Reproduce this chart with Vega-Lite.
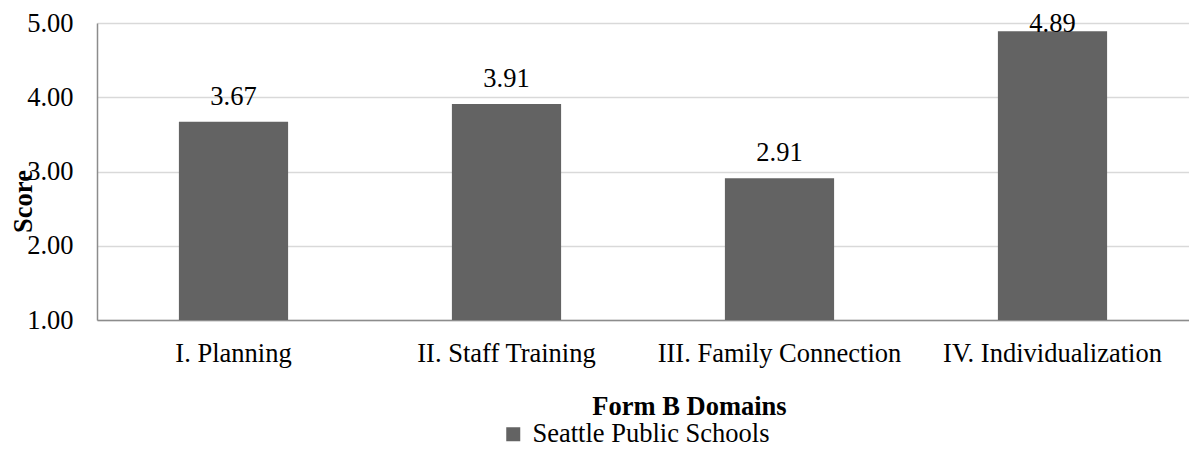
{
  "$schema": "https://vega.github.io/schema/vega-lite/v6.json",
  "autosize": "none",
  "width": 1092,
  "height": 297,
  "padding": {"left": 97, "top": 23, "right": 0, "bottom": 129},
  "background": "white",
  "config": {
    "view": {"stroke": null},
    "font": "Liberation Serif",
    "axis": {"labelFont": "Liberation Serif", "titleFont": "Liberation Serif"}
  },
  "data": {
    "values": [
      {"domain": "I. Planning", "score": 3.67, "series": "Seattle Public Schools"},
      {"domain": "II. Staff Training", "score": 3.91, "series": "Seattle Public Schools"},
      {"domain": "III. Family Connection", "score": 2.91, "series": "Seattle Public Schools"},
      {"domain": "IV. Individualization", "score": 4.89, "series": "Seattle Public Schools"}
    ]
  },
  "encoding": {
    "x": {
      "field": "domain",
      "type": "nominal",
      "sort": null,
      "scale": {"paddingInner": 0.6, "paddingOuter": 0.3},
      "axis": {
        "title": "Form B Domains",
        "titleFontSize": 26.5,
        "titleFontWeight": "bold",
        "titleColor": "black",
        "titleBaseline": "alphabetic",
        "titleX": 592,
        "titleY": 94,
        "titleAnchor": null,
        "labelAngle": 0,
        "labelFontSize": 26.5,
        "labelColor": "black",
        "labelPadding": 20,
        "labelLimit": 0,
        "ticks": false,
        "tickSize": 0,
        "domainColor": "#8c8c8c",
        "domainWidth": 1.5
      }
    },
    "y": {
      "field": "score",
      "type": "quantitative",
      "scale": {"domain": [1, 5], "zero": false, "nice": false},
      "axis": {
        "title": "Score",
        "titleFontSize": 26.5,
        "titleFontWeight": "bold",
        "titleColor": "black",
        "titleX": -74,
        "titleY": 178,
        "titleAlign": "center",
        "titleBaseline": "middle",
        "titleAngle": -90,
        "values": [1, 2, 3, 4, 5],
        "format": ".2f",
        "labelFontSize": 26.5,
        "labelColor": "black",
        "labelPadding": 24,
        "ticks": false,
        "tickSize": 0,
        "grid": true,
        "gridColor": "#d9d9d9",
        "gridWidth": 1.5,
        "domainColor": "#8c8c8c",
        "domainWidth": 1.5
      }
    }
  },
  "layer": [
    {
      "mark": {"type": "bar"},
      "encoding": {
        "y2": {"datum": 1},
        "color": {
          "field": "series",
          "type": "nominal",
          "scale": {"range": ["#636363"]},
          "legend": {
            "title": null,
            "orient": "none",
            "legendX": 403,
            "legendY": 398,
            "padding": 0,
            "symbolType": "square",
            "symbolSize": 196,
            "symbolStrokeWidth": 0,
            "symbolOpacity": 1,
            "labelFont": "Liberation Serif",
            "labelFontSize": 26.5,
            "labelColor": "black",
            "labelOffset": 6,
            "labelLimit": 0
          }
        }
      }
    },
    {
      "transform": [{"filter": "datum.score < 4.6"}],
      "mark": {"type": "text", "dy": -17, "baseline": "alphabetic", "fontSize": 26.5, "font": "Liberation Serif", "color": "black"},
      "encoding": {
        "text": {"field": "score", "type": "quantitative", "format": ".2f"}
      }
    },
    {
      "transform": [{"filter": "datum.score >= 4.6"}],
      "mark": {"type": "text", "dy": 1, "baseline": "alphabetic", "fontSize": 26.5, "font": "Liberation Serif", "color": "black"},
      "encoding": {
        "text": {"field": "score", "type": "quantitative", "format": ".2f"}
      }
    }
  ]
}
